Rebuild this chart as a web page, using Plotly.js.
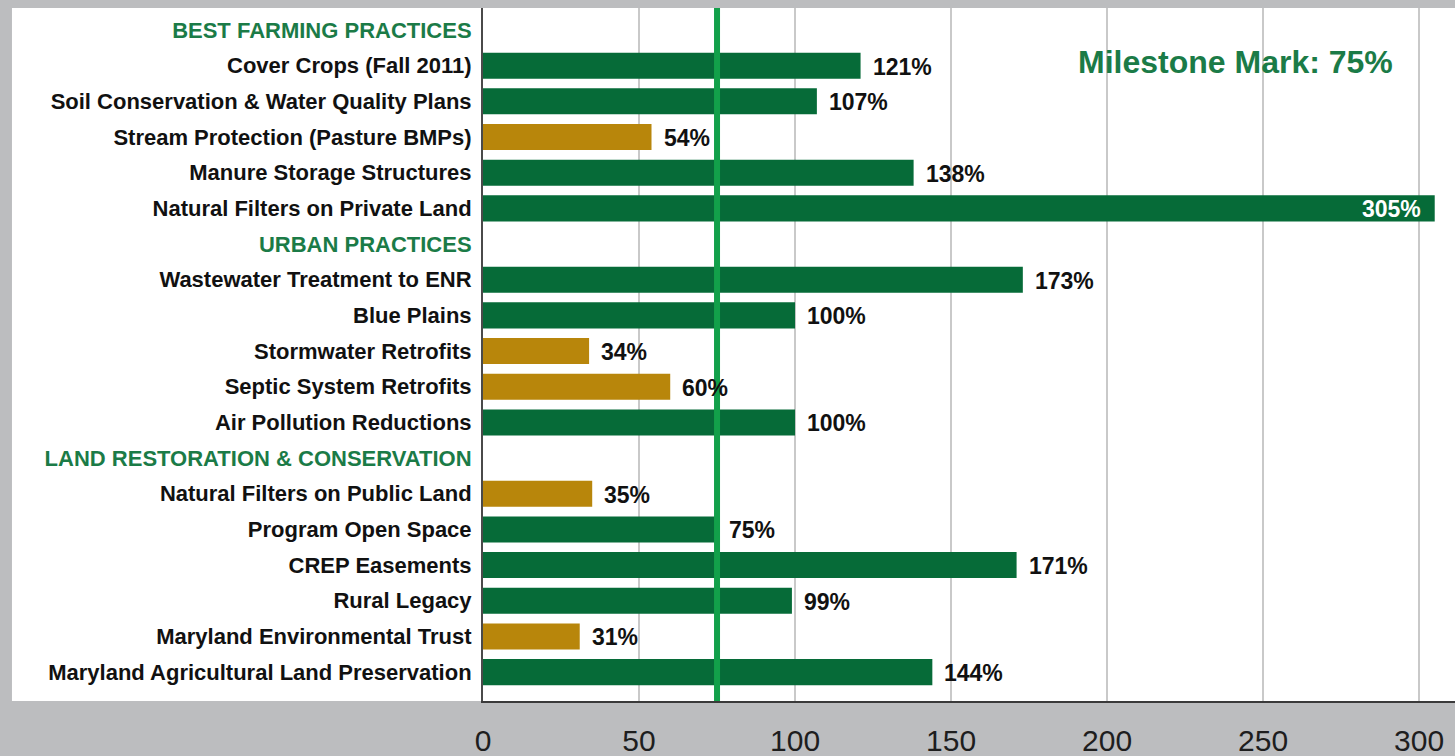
<!DOCTYPE html>
<html>
<head>
<meta charset="utf-8">
<script src="https://cdn.plot.ly/plotly-3.0.1.min.js"></script>
<style>html,body{margin:0;padding:0;background:#bcbdbf;}#chart{width:1455px;height:756px;}</style>
</head>
<body>
<div id="chart"></div>
<script>
// ---- data ----
const categories = [
  "BEST FARMING PRACTICES",
  "Cover Crops (Fall 2011)",
  "Soil Conservation & Water Quality Plans",
  "Stream Protection (Pasture BMPs)",
  "Manure Storage Structures",
  "Natural Filters on Private Land",
  "URBAN PRACTICES",
  "Wastewater Treatment to ENR",
  "Blue Plains",
  "Stormwater Retrofits",
  "Septic System Retrofits",
  "Air Pollution Reductions",
  "LAND RESTORATION & CONSERVATION",
  "Natural Filters on Public Land",
  "Program Open Space",
  "CREP Easements",
  "Rural Legacy",
  "Maryland Environmental Trust",
  "Maryland Agricultural Land Preservation"
];
const isHeader = [true,false,false,false,false,false,true,false,false,false,false,false,true,false,false,false,false,false,false];
const percentValues = [null,121,107,54,138,305,null,173,100,34,60,100,null,35,75,171,99,31,144];
const milestone = 75;
const xTickValues = [0,50,100,150,200,250,300];

// ---- styling ----
const GREEN = "#066b38";
const GOLD = "#b8860b";
const HEADER_GREEN = "#1b7b47";
const LINE_GREEN = "#12a04a";

const barColors = percentValues.map(v => (v !== null && v < milestone) ? GOLD : GREEN);
const tickText = categories.map((c, i) => isHeader[i]
  ? '<span style="color:' + HEADER_GREEN + '"><b>' + c.replace('&','&amp;') + '</b></span>'
  : '<b>' + c.replace('&','&amp;') + '</b>');

const maxVal = Math.max(...percentValues.filter(v => v !== null));

const annotations = [];
percentValues.forEach((v, i) => {
  if (v === null) return;
  const inside = v === maxVal;
  annotations.push({
    x: v, y: categories[i], xref: 'x', yref: 'y',
    text: '<b>' + v + '%</b>',
    showarrow: false,
    xanchor: inside ? 'right' : 'left',
    xshift: inside ? -12 : 10,
    yshift: -1,
    font: {family: 'Liberation Sans, Arial, sans-serif', size: 23, color: inside ? '#ffffff' : '#111111'}
  });
});
annotations.push({
  xref: 'paper', yref: 'paper', x: 0.774, y: 0.922,
  text: '<b>Milestone Mark: ' + milestone + '%</b>',
  showarrow: false, xanchor: 'center', yanchor: 'middle',
  font: {family: 'Liberation Sans, Arial, sans-serif', size: 32, color: HEADER_GREEN}
});

const trace = {
  type: 'bar',
  orientation: 'h',
  x: percentValues,
  y: categories,
  marker: {color: barColors},
  width: 0.73,
  hoverinfo: 'x+y'
};

const nCat = categories.length;
const layout = {
  width: 1455, height: 756,
  paper_bgcolor: '#bcbdbf',
  plot_bgcolor: '#ffffff',
  margin: {l: 483, r: 0, t: 8, b: 55},
  showlegend: false,
  bargap: 0.27,
  xaxis: {
    range: [0, 311.5],
    tickvals: xTickValues,
    ticktext: xTickValues.map(String),
    showgrid: true, gridcolor: '#c9c9c9', gridwidth: 1.5,
    zeroline: false,
    showline: true, linecolor: '#3a3a3a', linewidth: 2,
    ticks: '',
    ticklabelstandoff: 12,
    tickfont: {family: 'Liberation Sans Narrow, Arial Narrow, Liberation Sans, sans-serif', size: 30, color: '#1e1e1e'},
    fixedrange: true
  },
  yaxis: {
    type: 'category',
    categoryorder: 'array',
    categoryarray: categories,
    tickvals: categories,
    ticktext: tickText,
    range: [nCat - 1 + 0.81, -0.617],
    showgrid: false,
    zeroline: false,
    showline: true, linecolor: '#4a4a4a', linewidth: 2,
    ticks: '',
    ticklabelstandoff: 5,
    tickfont: {family: 'Liberation Sans, Arial, sans-serif', size: 22, color: '#111111'},
    fixedrange: true
  },
  shapes: [
    {type: 'rect', xref: 'paper', yref: 'paper', x0: -0.4846, x1: 1.01, y0: 0, y1: 1,
     fillcolor: '#ffffff', line: {width: 0}, layer: 'below'},
    {type: 'line', xref: 'x', yref: 'paper', x0: milestone, x1: milestone, y0: 0, y1: 1,
     line: {color: LINE_GREEN, width: 6}, layer: 'above'}
  ],
  annotations: annotations
};

Plotly.newPlot('chart', [trace], layout, {displayModeBar: false, staticPlot: true});
</script>
</body>
</html>
